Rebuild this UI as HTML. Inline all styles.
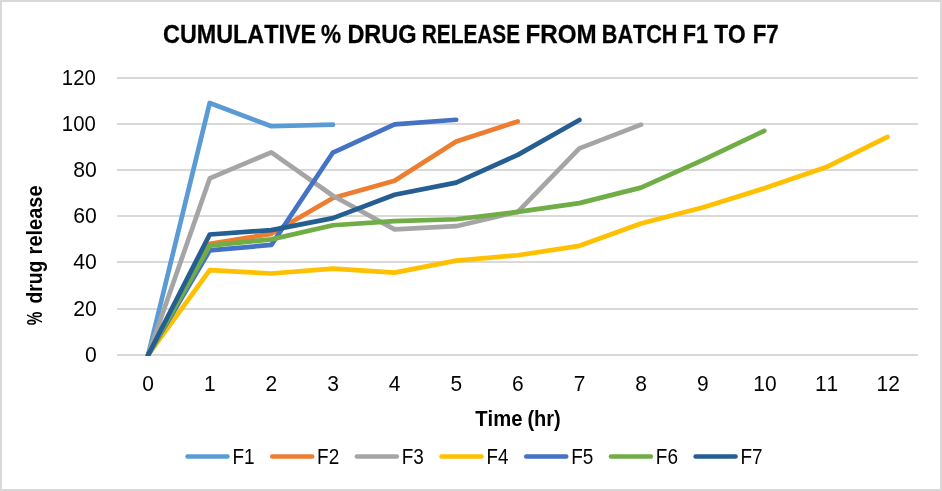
<!DOCTYPE html>
<html><head><meta charset="utf-8"><title>Cumulative % drug release</title>
<style>
html,body{margin:0;padding:0;background:#fff;}
body{width:942px;height:491px;overflow:hidden;}
svg{display:block;font-family:"Liberation Sans",sans-serif;font-kerning:none;}
</style></head><body>
<svg width="942" height="491" viewBox="0 0 942 491">
<rect x="0" y="0" width="942" height="491" fill="#ffffff"/>
<rect x="1" y="1" width="940" height="489" fill="none" stroke="#D9D9D9" stroke-width="2"/>
<g stroke="#D9D9D9" stroke-width="2" shape-rendering="crispEdges">
<line x1="117.0" y1="78" x2="918.0" y2="78"/>
<line x1="117.0" y1="124" x2="918.0" y2="124"/>
<line x1="117.0" y1="170" x2="918.0" y2="170"/>
<line x1="117.0" y1="216" x2="918.0" y2="216"/>
<line x1="117.0" y1="262" x2="918.0" y2="262"/>
<line x1="117.0" y1="309" x2="918.0" y2="309"/>
<line x1="117.0" y1="355" x2="918.0" y2="355"/>
</g>
<defs><clipPath id="plot"><rect x="117" y="60" width="801" height="296"/></clipPath></defs>
<g fill="none" stroke-width="4.7" stroke-linecap="round" stroke-linejoin="round" clip-path="url(#plot)">
<polyline points="148.11,355.00 209.72,102.93 271.34,126.24 332.95,124.63" stroke="#5B9BD5"/>
<polyline points="148.11,355.00 209.72,243.74 271.34,233.81 332.95,198.03 394.57,180.72 456.18,141.48 517.80,121.40" stroke="#ED7D31"/>
<polyline points="148.11,355.00 209.72,178.41 271.34,152.33 332.95,195.73 394.57,229.43 456.18,226.20 517.80,211.88 579.42,148.40 641.03,124.63" stroke="#A5A5A5"/>
<polyline points="148.11,355.00 209.72,270.05 271.34,273.52 332.95,268.67 394.57,272.59 456.18,260.59 517.80,255.28 579.42,245.82 641.03,223.43 702.65,207.50 764.26,188.34 825.88,167.33 887.49,136.86" stroke="#FFC000"/>
<polyline points="148.11,355.00 209.72,250.43 271.34,244.89 332.95,152.56 394.57,124.40 456.18,119.78" stroke="#4472C4"/>
<polyline points="148.11,355.00 209.72,245.59 271.34,239.35 332.95,225.27 394.57,221.12 456.18,219.27 517.80,211.88 579.42,203.11 641.03,187.65 702.65,160.18 764.26,130.86" stroke="#70AD47"/>
<polyline points="148.11,355.00 209.72,234.50 271.34,230.12 332.95,218.12 394.57,194.80 456.18,182.57 517.80,154.87 579.42,120.01" stroke="#255E91"/>
</g>
<g fill="none" stroke-width="4.5" stroke-linecap="round">
<line x1="187.50" y1="456.5" x2="227.50" y2="456.5" stroke="#5B9BD5"/>
<line x1="272.18" y1="456.5" x2="312.18" y2="456.5" stroke="#ED7D31"/>
<line x1="356.86" y1="456.5" x2="396.86" y2="456.5" stroke="#A5A5A5"/>
<line x1="441.54" y1="456.5" x2="481.54" y2="456.5" stroke="#FFC000"/>
<line x1="526.22" y1="456.5" x2="566.22" y2="456.5" stroke="#4472C4"/>
<line x1="610.90" y1="456.5" x2="650.90" y2="456.5" stroke="#70AD47"/>
<line x1="695.58" y1="456.5" x2="735.58" y2="456.5" stroke="#255E91"/>
</g>
<g fill="#000000" opacity="0.999">
<text transform="translate(61.87,85.00) scale(0.9550,1)" font-size="21.3" >120</text>
<text transform="translate(61.87,131.00) scale(0.9550,1)" font-size="21.3" >100</text>
<text transform="translate(73.25,177.00) scale(0.9950,1)" font-size="21.3" >80</text>
<text transform="translate(73.25,223.00) scale(0.9950,1)" font-size="21.3" >60</text>
<text transform="translate(73.25,269.00) scale(0.9950,1)" font-size="21.3" >40</text>
<text transform="translate(73.25,316.00) scale(0.9950,1)" font-size="21.3" >20</text>
<text transform="translate(85.04,362.00) scale(0.9950,1)" font-size="21.3" >0</text>
<text transform="translate(142.37,391.00) scale(0.9850,1)" font-size="21.3" >0</text>
<text transform="translate(203.99,391.00) scale(0.9850,1)" font-size="21.3" >1</text>
<text transform="translate(265.60,391.00) scale(0.9850,1)" font-size="21.3" >2</text>
<text transform="translate(327.22,391.00) scale(0.9850,1)" font-size="21.3" >3</text>
<text transform="translate(388.84,391.00) scale(0.9850,1)" font-size="21.3" >4</text>
<text transform="translate(450.45,391.00) scale(0.9850,1)" font-size="21.3" >5</text>
<text transform="translate(512.07,391.00) scale(0.9850,1)" font-size="21.3" >6</text>
<text transform="translate(573.68,391.00) scale(0.9850,1)" font-size="21.3" >7</text>
<text transform="translate(635.30,391.00) scale(0.9850,1)" font-size="21.3" >8</text>
<text transform="translate(696.91,391.00) scale(0.9850,1)" font-size="21.3" >9</text>
<text transform="translate(753.29,391.00) scale(0.9850,1)" font-size="21.3" >10</text>
<text transform="translate(814.91,391.00) scale(0.9850,1)" font-size="21.3" >11</text>
<text transform="translate(876.52,391.00) scale(0.9850,1)" font-size="21.3" >12</text>
<text transform="translate(163.12,42.70) scale(0.9120,1)" font-size="25.6" font-weight="bold" stroke="#000" stroke-width="0.3" >CUMULATIVE</text>
<text transform="translate(321.10,42.70) scale(0.8818,1)" font-size="25.6" font-weight="bold" stroke="#000" stroke-width="0.3" >%</text>
<text transform="translate(347.38,42.70) scale(0.9189,1)" font-size="25.6" font-weight="bold" stroke="#000" stroke-width="0.3" >DRUG</text>
<text transform="translate(421.75,42.70) scale(0.8134,1)" font-size="25.6" font-weight="bold" stroke="#000" stroke-width="0.3" >RELEASE</text>
<text transform="translate(525.44,42.70) scale(0.9443,1)" font-size="25.6" font-weight="bold" stroke="#000" stroke-width="0.3" >FROM</text>
<text transform="translate(601.80,42.70) scale(0.8436,1)" font-size="25.6" font-weight="bold" stroke="#000" stroke-width="0.3" >BATCH</text>
<text transform="translate(682.79,42.70) scale(0.8503,1)" font-size="25.6" font-weight="bold" stroke="#000" stroke-width="0.3" >F1</text>
<text transform="translate(714.15,42.70) scale(0.8870,1)" font-size="25.6" font-weight="bold" stroke="#000" stroke-width="0.3" >TO</text>
<text transform="translate(752.76,42.70) scale(0.8701,1)" font-size="25.6" font-weight="bold" stroke="#000" stroke-width="0.3" >F7</text>
<text transform="translate(475.25,426.00) scale(0.9515,1)" font-size="21.3" font-weight="bold" >Time</text>
<text transform="translate(527.41,426.00) scale(0.9401,1)" font-size="21.3" font-weight="bold" >(hr)</text>
<text transform="translate(41.90,325.29) rotate(-90) scale(0.7157,1)" font-size="21.3" font-weight="bold" >%</text>
<text transform="translate(41.90,303.55) rotate(-90) scale(0.9030,1)" font-size="21.3" font-weight="bold" >drug</text>
<text transform="translate(41.90,254.40) rotate(-90) scale(0.9389,1)" font-size="21.3" font-weight="bold" >release</text>
<text transform="translate(232.42,464.00) scale(0.8912,1)" font-size="21.3" >F1</text>
<text transform="translate(317.10,464.00) scale(0.8912,1)" font-size="21.3" >F2</text>
<text transform="translate(401.78,464.00) scale(0.8912,1)" font-size="21.3" >F3</text>
<text transform="translate(486.48,464.00) scale(0.8781,1)" font-size="21.3" >F4</text>
<text transform="translate(571.14,464.00) scale(0.8912,1)" font-size="21.3" >F5</text>
<text transform="translate(655.82,464.00) scale(0.8912,1)" font-size="21.3" >F6</text>
<text transform="translate(740.50,464.00) scale(0.8912,1)" font-size="21.3" >F7</text>
</g>
</svg></body></html>
